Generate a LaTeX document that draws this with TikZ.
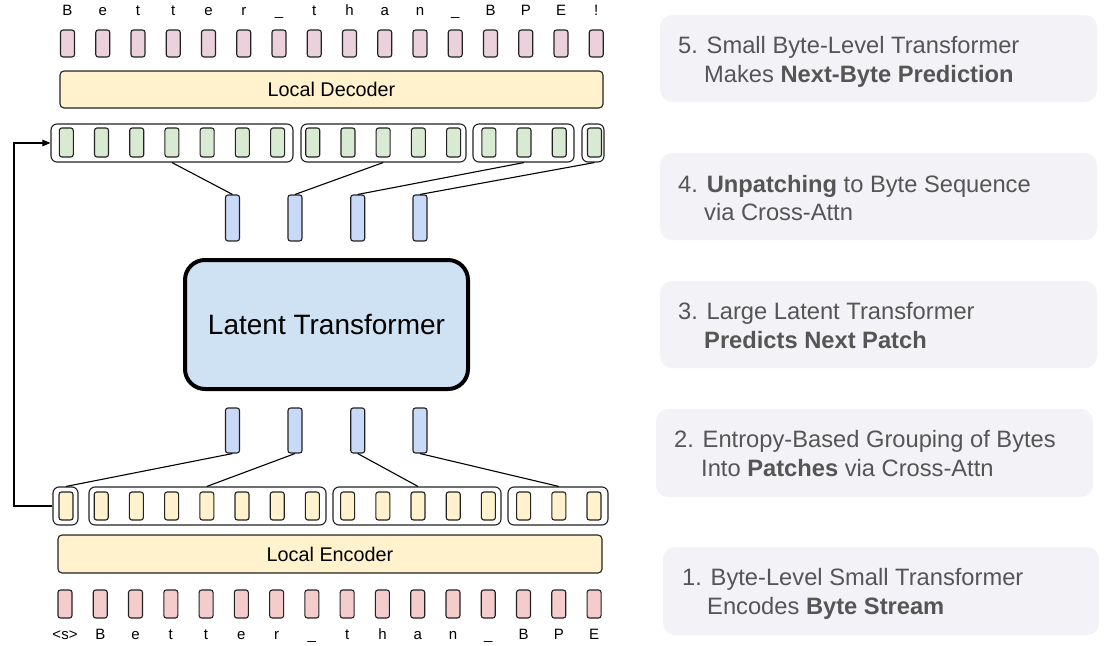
\documentclass[tikz,border=0pt]{standalone}
\usepackage{fontspec}
\setmainfont{Liberation Sans}
\usetikzlibrary{arrows.meta,calc}
\definecolor{decpink}{HTML}{EAD1DC}
\definecolor{encpink}{HTML}{F4CCCC}
\definecolor{hidgreen}{HTML}{D9EAD3}
\definecolor{locyellow}{HTML}{FFF2CC}
\definecolor{patchblue}{HTML}{C9DAF8}
\definecolor{latblue}{HTML}{CFE2F3}
\definecolor{panelgray}{HTML}{F3F3F7}
\definecolor{paneltext}{HTML}{555555}
\definecolor{edge}{HTML}{222222}
\begin{document}
\begin{tikzpicture}[x=1pt,y=-1pt,
  bytebox/.style={rectangle, rounded corners=2.5pt, draw=edge, line width=1.1pt, minimum width=14pt, inner sep=0pt},
  decbyte/.style={bytebox, fill=decpink, minimum height=27pt},
  encbyte/.style={bytebox, fill=encpink, minimum height=28pt},
  hidbyte/.style={bytebox, fill=hidgreen, minimum height=29pt},
  locbyte/.style={bytebox, fill=locyellow, minimum height=28pt},
  groupbox/.style={rectangle, rounded corners=6pt, draw=edge, line width=1.1pt, minimum height=38pt, inner sep=0pt},
  patchbox/.style={rectangle, rounded corners=2.5pt, draw=edge, line width=1.1pt, fill=patchblue, minimum width=14pt, inner sep=0pt},
  localbox/.style={rectangle, rounded corners=4pt, draw=edge, line width=1.1pt, fill=locyellow, inner sep=0pt, font=\fontsize{19.8}{23}\selectfont},
  letter/.style={anchor=base, inner sep=0pt, font=\fontsize{15}{18}\selectfont},
  panel/.style={rectangle, rounded corners=12pt, fill=panelgray, inner sep=0pt},
  ptext/.style={anchor=base west, inner sep=0pt, text=paneltext, font=\fontsize{23.7}{28}\selectfont},
  conn/.style={draw=black, line width=1.1pt}
]
\useasboundingbox (0,0) rectangle (1108,645);
\fill[white] (0,0) rectangle (1108,645);

% ---- right panels ----
\node[panel, minimum width=437pt, minimum height=87pt] (P5) at (878.5,58.5) {};
\node[panel, minimum width=437pt, minimum height=87pt] (P4) at (878.5,196.5) {};
\node[panel, minimum width=437pt, minimum height=87pt] (P3) at (878.5,324.5) {};
\node[panel, minimum width=437pt, minimum height=88pt] (P2) at (874.5,453) {};
\node[panel, minimum width=436pt, minimum height=88pt] (P1) at (881,591) {};

\node[ptext] (t5a) at (678,53) {5. Small Byte-Level Transformer};
\node[ptext] (t5b) at (704,82) {Makes \textbf{Next-Byte Prediction}};
\node[ptext] (t4a) at (678,192) {4. \textbf{Unpatching} to Byte Sequence};
\node[ptext] (t4b) at (704,220) {via Cross-Attn};
\node[ptext] (t3a) at (678,319) {3. Large Latent Transformer};
\node[ptext] (t3b) at (704,348) {\textbf{Predicts Next Patch}};
\node[ptext] (t2a) at (674,447) {2. Entropy-Based Grouping of Bytes};
\node[ptext] (t2b) at (701,476) {Into \textbf{Patches} via Cross-Attn};
\node[ptext] (t1a) at (682,585) {1. Byte-Level Small Transformer};
\node[ptext] (t1b) at (707,614) {Encodes \textbf{Byte Stream}};

% ---- top letters and decoder bytes ----
\foreach \c [count=\i from 0] in {B,e,t,t,e,r,\_,t,h,a,n,\_,B,P,E,!} {
  \node[letter] (lt\i) at ({67.5+35.25*\i},16) {\c};
  \node[decbyte] (d\i) at ({67.5+35.25*\i},43.5) {};
}
\node[localbox, minimum width=543pt, minimum height=37pt] (dec) at (331.5,89.5) {Local Decoder};

% ---- hidden (green) groups ----
\node[groupbox, minimum width=242pt] (G1) at (172,143) {};
\node[groupbox, minimum width=165pt] (G2) at (383.5,143) {};
\node[groupbox, minimum width=101pt] (G3) at (523.5,143) {};
\node[groupbox, minimum width=22pt] (G4) at (593,143) {};
\foreach \i in {0,...,15} {
  \node[hidbyte] (h\i) at ({66.3+35.21*\i},142.5) {};
}

% ---- upper patches ----
\node[patchbox, minimum height=46pt] (pu1) at (232.5,218) {};
\node[patchbox, minimum height=46pt] (pu2) at (295,218) {};
\node[patchbox, minimum height=46pt] (pu3) at (357.7,218) {};
\node[patchbox, minimum height=46pt] (pu4) at (420,218) {};
\draw[conn] (G1.south -| h3) -- (pu1.north);
\draw[conn] (G2.south -| h9) -- (pu2.north);
\draw[conn] (G3.south -| h13) -- (pu3.north);
\draw[conn] (G4.south -| h15) -- (pu4.north);

% ---- latent transformer ----
\node[rectangle, rounded corners=20pt, draw=black, line width=4pt, fill=latblue,
      minimum width=283pt, minimum height=129pt, inner sep=0pt,
      font=\fontsize{28}{32}\selectfont] (lat) at (326.5,324.5) {Latent Transformer};

% ---- lower patches ----
\node[patchbox, minimum height=45pt] (pl1) at (232.5,430.5) {};
\node[patchbox, minimum height=45pt] (pl2) at (295,430.5) {};
\node[patchbox, minimum height=45pt] (pl3) at (357.7,430.5) {};
\node[patchbox, minimum height=45pt] (pl4) at (420,430.5) {};

% ---- encoder (yellow) groups ----
\node[groupbox, minimum width=25pt] (E1) at (65.5,506) {};
\node[groupbox, minimum width=237pt] (E2) at (207.5,506) {};
\node[groupbox, minimum width=168pt] (E3) at (417,506) {};
\node[groupbox, minimum width=100pt] (E4) at (558,506) {};
\foreach \i in {0,...,15} {
  \node[locbyte] (y\i) at ({66+35.2*\i},506) {};
}
\draw[conn] (E1.north -| y0) -- (pl1.south);
\draw[conn] (E2.north -| y4) -- (pl2.south);
\draw[conn] (E3.north -| y10) -- (pl3.south);
\draw[conn] (E4.north -| y14) -- (pl4.south);

% ---- feedback arrow ----
\coordinate (fb) at (14,506);
\draw[conn, -{Triangle[length=8pt,width=6.5pt]}] (E1.west) -- (fb) |- (G1.west);

% ---- encoder and bottom bytes ----
\node[localbox, minimum width=544pt, minimum height=38pt] (enc) at (330,554) {Local Encoder};
\foreach \c [count=\i from 0] in {<s>,B,e,t,t,e,r,\_,t,h,a,n,\_,B,P,E} {
  \node[encbyte] (b\i) at ({65+35.27*\i},604) {};
  \node[letter] (lb\i) at ({65+35.27*\i},639) {\c};
}
\end{tikzpicture}
\end{document}
